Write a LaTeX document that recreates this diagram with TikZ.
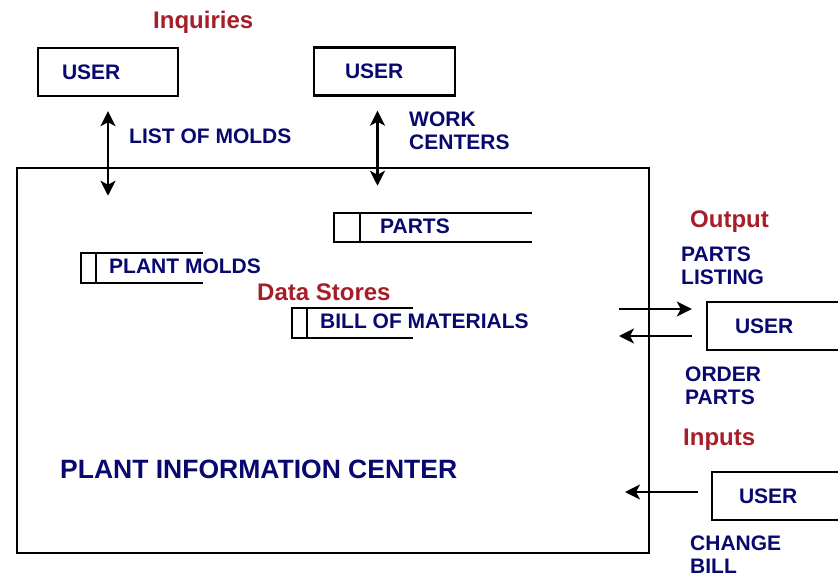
\documentclass[tikz,border=0pt]{standalone}
\usepackage{fontspec}
\setmainfont{Liberation Sans}
\usepackage{tikz}
\usetikzlibrary{arrows.meta}
\definecolor{pinavy}{RGB}{8,8,110}
\definecolor{pired}{RGB}{165,30,40}
\tikzset{
piuser/.style={rectangle,draw,line width=2.4pt,text width=92pt,inner xsep=24pt,inner ysep=0pt,minimum height=48pt,align=left,text=pinavy,font=\bfseries\fontsize{21}{23}\selectfont},
pilabel/.style={inner sep=0pt,text=pinavy,align=left,font=\bfseries\fontsize{21}{23}\selectfont},
pihead/.style={inner sep=0pt,text=pired,font=\bfseries\fontsize{24}{27}\selectfont},
pititle/.style={inner sep=0pt,text=pinavy,font=\bfseries\fontsize{26.5}{30}\selectfont},
pibox/.style={rectangle,draw,line width=2.5pt,inner sep=0pt,minimum width=632pt,minimum height=385pt},
pistore/.style={line width=2.2pt},
piarr/.style={-{Stealth[length=15pt,width=15pt,inset=4pt]},line width=2.3pt},
pidbl/.style={{Stealth[length=15pt,width=15pt,inset=4pt]}-{Stealth[length=15pt,width=15pt,inset=4pt]},line width=2.3pt}
}
\begin{document}
\begin{tikzpicture}[
x=1pt,
y=-1pt
]
\useasboundingbox (0,0) rectangle (838,573);
\clip (0,0) rectangle (838,573);
\node[pibox] (plant) at (333,360.5) {};
\node[pititle,anchor=base west] (title) at (60,478) {PLANT INFORMATION CENTER};
% inquiries
\node[pihead,anchor=base west] (inq) at (153,28) {Inquiries};
\node[piuser] (user1) at (108,72) {USER};
\node[piuser,inner xsep=31pt,text width=79pt] (user2) at (384.5,71.5) {USER};
\node[pilabel,anchor=base west] (listmolds) at (129,143) {LIST OF MOLDS};
\node[pilabel,anchor=north west] (work) at (409,112) {WORK\\CENTERS};
\draw[pidbl] ([yshift=-14pt]user1.south) -- ([yshift=-29pt]user1.south |- plant.north);
\draw[pidbl] ([xshift=-7pt,yshift=-14pt]user2.south) -- ([xshift=-7pt,yshift=-19pt]user2.south |- plant.north);
% data stores
\node[pilabel,anchor=base west] (parts) at (380,233) {PARTS};
\node[pilabel,anchor=base west] (molds) at (109,273) {PLANT MOLDS};
\node[pihead,anchor=base west] (stores) at (257,300) {Data Stores};
\node[pilabel,anchor=base west] (bom) at (320,328) {BILL OF MATERIALS};
\draw[pistore] (532,213) -- (334,213) -- (334,242) -- (532,242) (360,213) -- (360,242);
\draw[pistore] (203,253) -- (81,253) -- (81,283) -- (203,283) (96,253) -- (96,283);
\draw[pistore] (413,308) -- (292,308) -- (292,338) -- (413,338) (307,308) -- (307,338);
% output
\node[pihead,anchor=base west] (out) at (690,227) {Output};
\node[pilabel,anchor=north west] (listing) at (681,247) {PARTS\\LISTING};
\node[piuser,inner xsep=28pt,text width=94pt] (user3) at (782,326) {USER};
\node[pilabel,anchor=north west] (order) at (685,367) {ORDER\\PARTS};
\coordinate (outA) at (619,309);
\coordinate (inA) at (619,336);
\draw[piarr] (outA) -- ([xshift=-14pt]user3.west |- outA);
\draw[piarr] ([xshift=-14pt]user3.west |- inA) -- (inA);
% inputs
\node[pihead,anchor=base west] (inp) at (683,445) {Inputs};
\node[piuser,inner xsep=27pt,text width=96pt] (user4) at (787,496) {USER};
\node[pilabel,anchor=north west] (change) at (690,536) {CHANGE\\BILL};
\coordinate (chg) at (625,492);
\draw[piarr] ([xshift=-13pt]user4.west |- chg) -- (chg);
\end{tikzpicture}
\end{document}
